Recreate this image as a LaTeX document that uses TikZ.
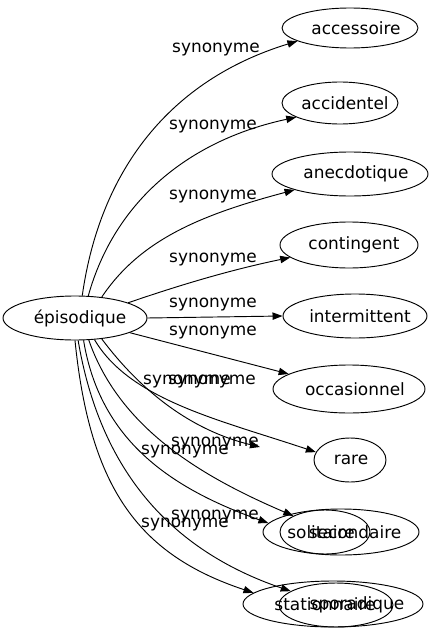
\documentclass[tikz,border=0pt]{standalone}
\usepackage{fontspec}
\setmainfont{DejaVu Sans}
\usepackage{tikz}
\usetikzlibrary{shapes.geometric, arrows.meta}
\tikzstyle{word} = [ellipse, draw=black, line width=0.7pt, inner sep=0pt]
\tikzstyle{arrow} = [line width=0.7pt, -{Triangle[length=7.5pt, width=5.5pt]}]
\tikzstyle{lbl} = [inner sep=0pt]
% texte décalé, sans élargir l'ellipse
\newcommand{\wtxt}[2]{\makebox[0pt]{\hspace*{#1}#2}}

\begin{document}
\begin{tikzpicture}[x=0.75pt, y=-0.75pt, every node/.style={font=\fontsize{12.7pt}{15pt}\selectfont}]
  \useasboundingbox (0,0) rectangle (432,635);

  % Mot de départ
  \node[word, minimum width=108pt, minimum height=33pt] (ep) at (75,318) {\wtxt{7.5pt}{épisodique}};

  % Synonymes
  \node[word, minimum width=102pt, minimum height=30pt] (acc) at (350,28) {\wtxt{9pt}{accessoire}};
  \node[word, minimum width=87pt, minimum height=31.5pt] (acd) at (340,103) {\wtxt{7.5pt}{accidentel}};
  \node[word, minimum width=117pt, minimum height=33pt] (ane) at (350,174) {\wtxt{9pt}{anecdotique}};
  \node[word, minimum width=103.5pt, minimum height=34.5pt] (con) at (349,245) {\wtxt{7.5pt}{contingent}};
  \node[word, minimum width=108pt, minimum height=33pt] (int) at (355,316) {\wtxt{7.5pt}{intermittent}};
  \node[word, minimum width=114pt, minimum height=36pt] (occ) at (349,389) {\wtxt{9pt}{occasionnel}};
  \node[word, minimum width=54pt, minimum height=33pt] (rar) at (350,460) {\wtxt{1.5pt}{rare}};
  \node[word, minimum width=117pt, minimum height=34.5pt] (sec) at (341,532) {\wtxt{21pt}{secondaire}};
  \node[word, minimum width=67.5pt, minimum height=33pt] (sol) at (325,532) {\wtxt{-6pt}{solitaire}};
  \node[word, minimum width=135pt, minimum height=34.5pt] (sta) at (333,604) {\wtxt{-12pt}{stationnaire}};
  \node[word, minimum width=85.5pt, minimum height=33pt] (spo) at (336,605) {\wtxt{31.5pt}{sporadique}};
  \coordinate (fr) at (260,447);

  % Arêtes
  \draw[arrow] (ep.72) .. controls (100,170) and (170,80) .. (acc.194) node[lbl] at (216,50) {synonyme};
  \draw[arrow] (ep.59) .. controls (115,200) and (190,140) .. (acd.198) node[lbl] at (213,127) {synonyme};
  \draw[arrow] (ep.38) .. controls (140,240) and (200,215) .. (ane.196) node[lbl] at (213,197) {synonyme};
  \draw[arrow] (ep.16) .. controls (180,285) and (230,270) .. (con.192) node[lbl] at (213,260) {synonyme};
  \draw[arrow] (ep.east) -- (int.west) node[lbl] at (213,305) {synonyme};
  \draw[arrow] (ep.345) -- (occ.166) node[lbl] at (213,333) {synonyme};
  \draw[arrow] (ep.312) .. controls (130,400) and (220,420) .. (rar.167) node[lbl] at (212,382) {synonyme};
  \draw[arrow] (ep.322) .. controls (140,390) and (190,430) .. (fr) node[lbl] at (215,444) {synonyme};
  \draw[arrow] (ep.291) .. controls (100,440) and (170,488) .. (sec.173) node[lbl] at (215,517) {synonyme};
  \draw[arrow] (ep.302) .. controls (120,430) and (205,478) .. (sol.153) node[lbl] at (187,382) {synonyme};
  \draw[arrow] (ep.270) .. controls (90,490) and (140,555) .. (sta.172) node[lbl] at (185,525) {synonyme};
  \draw[arrow] (ep.278) .. controls (100,470) and (170,550) .. (spo.163) node[lbl] at (185,452) {synonyme};
\end{tikzpicture}
\end{document}
